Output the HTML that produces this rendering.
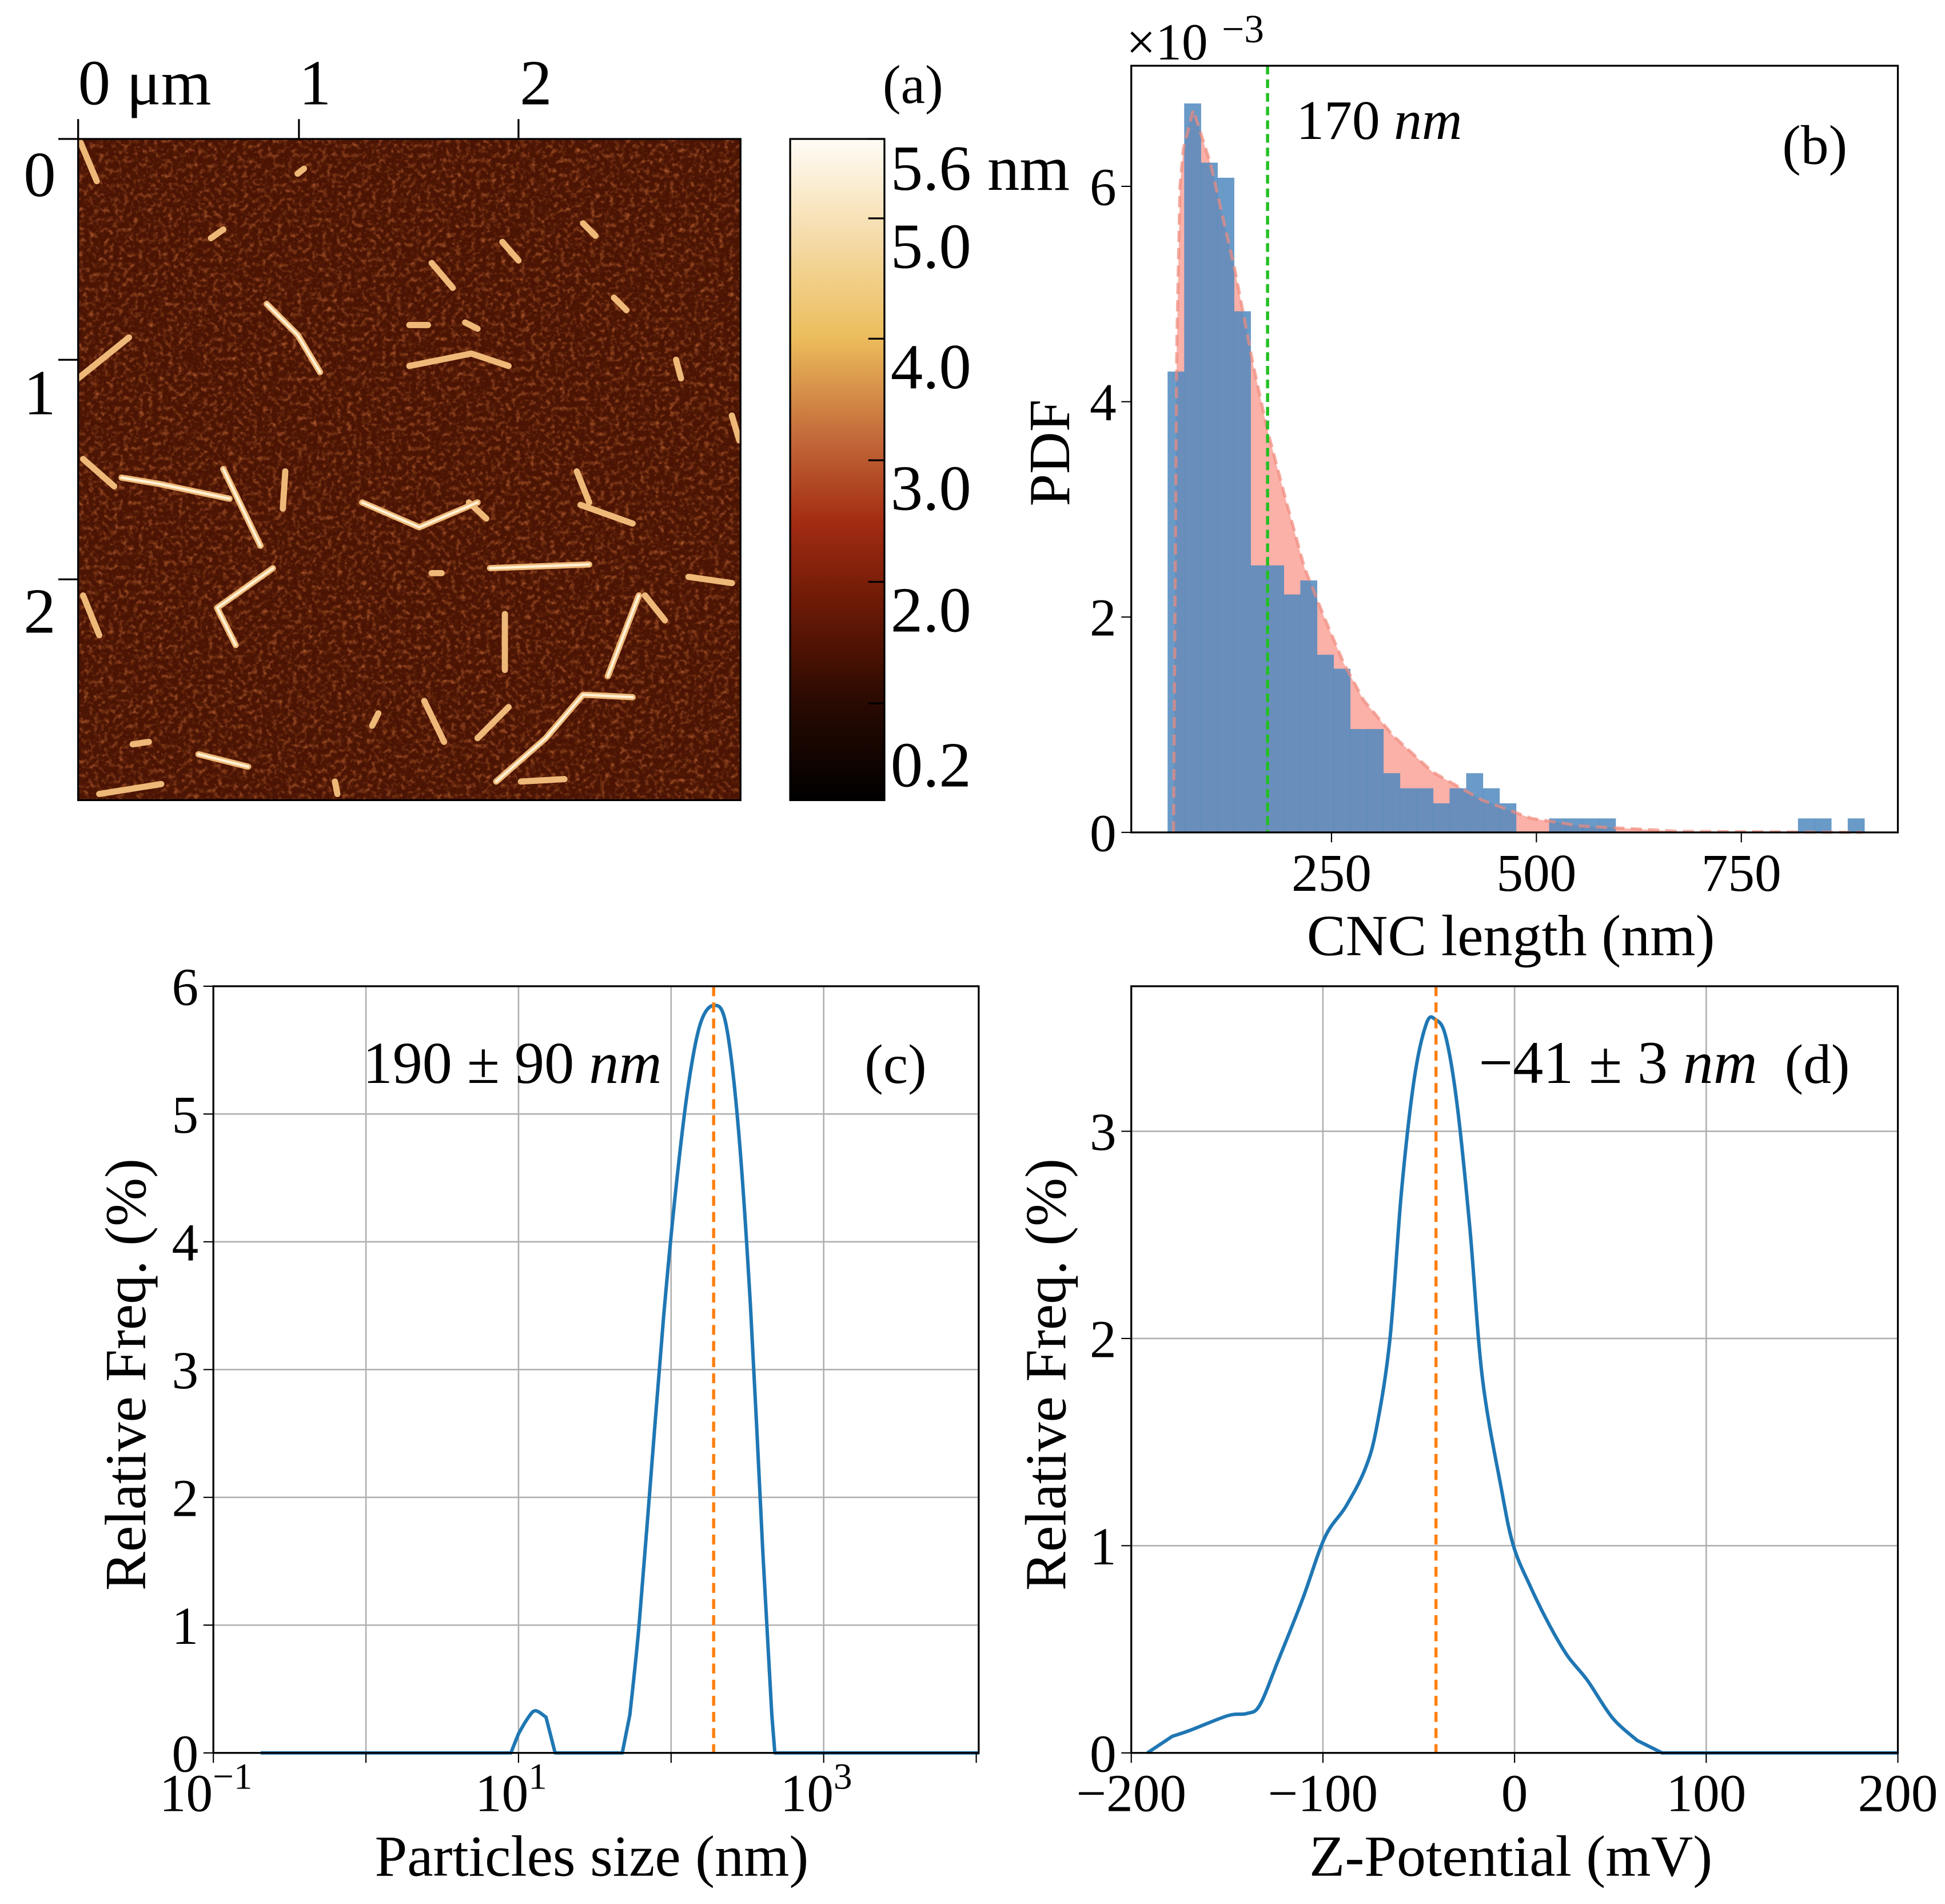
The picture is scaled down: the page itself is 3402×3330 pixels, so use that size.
<!DOCTYPE html>
<html><head><meta charset="utf-8"><style>
html,body{margin:0;padding:0;background:#fff}
svg{display:block;font-family:"Liberation Serif",serif}
</style></head><body>
<svg id="fig" width="3402" height="3330" viewBox="0 0 1568 1534.8" preserveAspectRatio="none">
<defs>
<linearGradient id="cbar" x1="0" y1="1" x2="0" y2="0">
<stop offset="0" stop-color="#000"/><stop offset="0.15" stop-color="#2a0a02"/><stop offset="0.3" stop-color="#6e1a06"/><stop offset="0.42" stop-color="#a22c12"/><stop offset="0.55" stop-color="#c46a3a"/><stop offset="0.7" stop-color="#ecbd5c"/><stop offset="0.85" stop-color="#f5dba8"/><stop offset="1" stop-color="#fffcf6"/>
</linearGradient>
<filter id="noise" x="0" y="0" width="100%" height="100%">
<feTurbulence type="fractalNoise" baseFrequency="0.25" numOctaves="2" seed="5"/>
<feColorMatrix type="matrix" values="0 0 0 0 0.62  0 0 0 0 0.16  0 0 0 0 0.04  1.8 0 0 0 -0.85"/>
</filter>
<filter id="noise2" x="0" y="0" width="100%" height="100%">
<feTurbulence type="fractalNoise" baseFrequency="0.3" numOctaves="1" seed="11"/>
<feColorMatrix type="matrix" values="0 0 0 0 0.08  0 0 0 0 0.01  0 0 0 0 0  2.0 0 0 0 -0.85"/>
</filter>
<clipPath id="afmclip"><rect x="63" y="112" width="534" height="533"/></clipPath>
</defs>

<!-- Panel a -->
<g>
<rect x="63" y="112" width="534" height="533" fill="#4a1304"/>
<rect x="63" y="112" width="534" height="533" filter="url(#noise)"/>
<rect x="63" y="112" width="534" height="533" filter="url(#noise2)"/>
<g clip-path="url(#afmclip)" fill="none" stroke-linecap="round" stroke-linejoin="round">
<g stroke="#eeb878" stroke-width="5">
<polyline points="65,115 78,146"/><polyline points="104,272 63,305"/><polyline points="215,245 240,270 258,300"/>
<polyline points="348,212 365,232"/><polyline points="405,195 418,210"/><polyline points="98,385 128,390 185,402"/>
<polyline points="180,378 210,440"/><polyline points="292,405 338,425 385,405"/><polyline points="378,405 392,418"/>
<polyline points="395,458 475,455"/><polyline points="468,407 510,422"/><polyline points="220,458 175,490 190,520"/>
<polyline points="555,465 590,470"/><polyline points="400,630 440,595 470,560 510,562"/><polyline points="420,630 455,628"/>
<polyline points="160,608 200,618"/><polyline points="515,480 490,545"/><polyline points="520,480 536,500"/>
<polyline points="407,495 407,540"/><polyline points="67,480 80,512"/><polyline points="330,295 380,285 410,295"/>
<polyline points="240,140 245,136"/><polyline points="385,595 410,570"/><polyline points="342,565 358,598"/>
<polyline points="545,290 549,305"/><polyline points="590,335 596,355"/><polyline points="67,370 92,392"/>
<polyline points="230,380 228,410"/><polyline points="465,380 475,405"/><polyline points="330,262 345,262"/>
<polyline points="495,240 505,250"/><polyline points="375,260 385,265"/><polyline points="107,600 120,598"/>
<polyline points="300,585 305,575"/><polyline points="270,630 272,640"/><polyline points="80,640 130,632"/>
<polyline points="348,462 356,462"/><polyline points="470,180 480,190"/><polyline points="180,185 170,192"/>
</g>
<g stroke="#fff2d6" stroke-width="2">
<polyline points="98,385 128,390 185,402"/><polyline points="180,378 210,440"/><polyline points="220,458 175,490 190,520"/>
<polyline points="400,630 440,595 470,560 510,562"/><polyline points="515,480 490,545"/><polyline points="292,405 338,425 385,405"/>
<polyline points="160,608 200,618"/><polyline points="215,245 240,270 258,300"/><polyline points="395,458 475,455"/>
</g>
</g>
<rect x="63" y="112" width="534" height="533" fill="none" stroke="#000" stroke-width="1.5"/>
<g stroke="#000" stroke-width="1.5">
<line x1="63" y1="96" x2="63" y2="112"/><line x1="241" y1="96" x2="241" y2="112"/><line x1="418" y1="96" x2="418" y2="112"/>
<line x1="47" y1="112" x2="63" y2="112"/><line x1="47" y1="290" x2="63" y2="290"/><line x1="47" y1="467" x2="63" y2="467"/>
</g>
<g font-size="52">
<text x="63" y="84">0 μm</text><text x="254" y="84" text-anchor="middle">1</text><text x="432" y="84" text-anchor="middle">2</text>
<text x="32" y="158" text-anchor="middle">0</text><text x="32" y="334" text-anchor="middle">1</text><text x="32" y="510" text-anchor="middle">2</text>
</g>
<text x="736" y="83" font-size="44" text-anchor="middle">(a)</text>
<rect x="637" y="112" width="76" height="533" fill="url(#cbar)" stroke="#000" stroke-width="1.5"/>
<g stroke="#000" stroke-width="1.5">
<line x1="713" y1="112" x2="700" y2="112"/><line x1="713" y1="176" x2="700" y2="176"/><line x1="713" y1="273" x2="700" y2="273"/><line x1="713" y1="371" x2="700" y2="371"/><line x1="713" y1="469" x2="700" y2="469"/><line x1="713" y1="567" x2="700" y2="567"/>
</g>
<g font-size="52">
<text x="718" y="153">5.6 nm</text><text x="718" y="216">5.0</text><text x="718" y="313">4.0</text><text x="718" y="411">3.0</text><text x="718" y="509">2.0</text><text x="718" y="634">0.2</text>
</g>
</g>

<g id="pb"></g>
<g id="pc"></g>
<g id="pd"></g>
</svg>
<script>
// Panel b data
const binStart = 50;
const binWidth = 20.24;
const binHeights = [4.28,6.77,6.22,6.08,4.84,2.48,2.48,2.21,2.34,1.65,1.52,0.96,0.96,0.55,0.41,0.41,0.27,0.41,0.55,0.41,0.27,0,0,0.13,0.13,0.13,0.13,0,0,0,0,0,0,0,0,0,0,0,0.13,0.13,0,0.13];
const fitX = [57.2,59.0,61.2,65.1,69.3,81.3,102.4,132.5,154.2,171.7,192.8,216.9,241,265,289,325,373.5,433.7,494,554,674.7,897.6];
const fitY = [0,2.0,4.5,6.0,6.35,6.71,6.21,5.21,4.35,3.74,3.13,2.46,2.0,1.57,1.23,0.90,0.56,0.30,0.13,0.06,0.01,0];
const medianB = 172;
const bXTicks = [250,500,750];
const bYTicks = [0,2,4,6];
// Panel c data (log10 of size)
const cLogX = [-0.69,0.95,1.0,1.06,1.11,1.18,1.24,1.68,1.73,1.79,1.87,1.95,2.03,2.11,2.19,2.28,2.36,2.44,2.52,2.6,2.66,2.68,4.02];
const cY = [0,0,0.15,0.27,0.33,0.28,0,0,0.3,1.0,2.2,3.4,4.4,5.2,5.7,5.85,5.7,4.9,3.5,1.6,0.3,0,0];
const cMean = 190;
const cYTicks = [0,1,2,3,4,5,6];
const cXTickExp = [-1,1,3];
// Panel d data
const dX = [-191.6,-178.6,-169,-149.5,-139.8,-133,-123.6,-110.7,-99,-88,-78,-72,-65,-59,-52.4,-46,-41.4,-36,-30,-23.3,-16.8,-7,-0.6,8.4,18,27.5,38,51,64,77,200];
const dY = [0,0.08,0.11,0.18,0.19,0.23,0.44,0.74,1.04,1.19,1.37,1.57,2.0,2.71,3.25,3.52,3.54,3.46,3.13,2.53,1.81,1.28,1.0,0.80,0.62,0.47,0.35,0.17,0.06,0,0];
const dMean = -41;
const dXTicks = [-200,-100,0,100,200];
const dYTicks = [0,1,2,3];

const NS='http://www.w3.org/2000/svg';
function mk(parent,tag,attrs,text){const e=document.createElementNS(NS,tag);for(const k in attrs)e.setAttribute(k,attrs[k]);if(text!==undefined)e.textContent=text;parent.appendChild(e);return e;}
function smooth(pts,base){ // Catmull-Rom; straight segments where touching baseline
 let d='M'+pts[0][0]+','+pts[0][1];
 for(let i=0;i<pts.length-1;i++){
  const p0=pts[Math.max(0,i-1)],p1=pts[i],p2=pts[i+1],p3=pts[Math.min(pts.length-1,i+2)];
  if(p1[1]>=base-0.01||p2[1]>=base-0.01){ d+=' L'+p2[0]+','+p2[1]; continue; }
  const q0=(p0[1]>=base-0.01)?p1:p0, q3=(p3[1]>=base-0.01)?p2:p3;
  d+=' C'+(p1[0]+(p2[0]-q0[0])/6)+','+(p1[1]+(p2[1]-q0[1])/6)+' '+(p2[0]-(q3[0]-p1[0])/6)+','+(p2[1]-(q3[1]-p1[1])/6)+' '+p2[0]+','+p2[1];
 }
 return d;
}

// ---- Panel b ----
(function(){
const g=document.getElementById('pb');
const L=912,R=1530,T=53,B=671, xmin=5.7, xmax=941, ymax=7.12;
const sx=v=>L+(v-xmin)/(xmax-xmin)*(R-L), sy=v=>B-v/ymax*(B-T);
let d='M'+sx(fitX[0])+','+B; fitX.forEach((x,i)=>{d+=' L'+sx(x)+','+sy(fitY[i]);}); d+=' L'+sx(fitX[fitX.length-1])+','+B+' Z';
const f=mk(g,'path',{d:d,fill:'#fbb0a8'});


binHeights.forEach((h,i)=>{ if(h<=0) return;
 const x0=sx(binStart+i*binWidth), x1=sx(binStart+(i+1)*binWidth);
 const r=mk(g,'rect',{x:x0,y:sy(h),width:x1-x0+0.3,height:B-sy(h),fill:'#4f88be',opacity:'0.85'});
 
 
});
let d2=''; fitX.forEach((x,i)=>{d2+=(i?' L':'M')+sx(x)+','+sy(fitY[i]);});
const fl=mk(g,'path',{d:d2,fill:'none',stroke:'#f08a7c',"stroke-width":2.5,"stroke-dasharray":'9,5',opacity:'0.7'});


const ml=mk(g,'line',{x1:sx(medianB),x2:sx(medianB),y1:T,y2:B,stroke:'#22c022',"stroke-width":2.5,"stroke-dasharray":'7,4'});


mk(g,'rect',{x:L,y:T,width:R-L,height:B-T,fill:'none',stroke:'#000',"stroke-width":1.5});
bXTicks.forEach(v=>{mk(g,'line',{x1:sx(v),x2:sx(v),y1:B,y2:B+8,stroke:'#000'});
 const t=mk(g,'text',{x:sx(v),y:B+47,"font-size":43,"text-anchor":'middle'},String(v));
 
 });
bYTicks.forEach(v=>{mk(g,'line',{x1:L-8,x2:L,y1:sy(v),y2:sy(v),stroke:'#000'});
 const t=mk(g,'text',{x:L-12,y:sy(v)+15,"font-size":43,"text-anchor":'end'},String(v));
 
 });
const xl=mk(g,'text',{x:1218,y:770,"font-size":47,"text-anchor":'middle'},'CNC length (nm)');


const yl=mk(g,'text',{x:0,y:0,"font-size":47,"text-anchor":'middle',transform:'translate(862,365) rotate(-90)'},'PDF');


const ex=mk(g,'text',{x:908,y:48,"font-size":42},'×10');


mk(g,'text',{x:985,y:34,"font-size":32},'−3');
const ann=mk(g,'text',{x:1045,y:112,"font-size":45},'170 ');
mk(ann,'tspan',{"font-style":'italic'},'nm');


const pl=mk(g,'text',{x:1463,y:132,"font-size":45,"text-anchor":'middle'},'(b)');


})();

// ---- Panel c ----
(function(){
const g=document.getElementById('pc');
const L=172,R=789,T=795,B=1413, xmin=-1, xmax=4.016, ymax=6;
const sx=v=>L+(v-xmin)/(xmax-xmin)*(R-L), sy=v=>B-v/ymax*(B-T);
for(let e=0;e<=3;e++){mk(g,'line',{x1:sx(e),x2:sx(e),y1:T,y2:B,stroke:'#b0b0b0',"stroke-width":1.2});}
cYTicks.forEach(v=>{ if(v>0&&v<6) mk(g,'line',{x1:L,x2:R,y1:sy(v),y2:sy(v),stroke:'#b0b0b0',"stroke-width":1.2});});
const pts=cLogX.map((x,i)=>[sx(x),sy(cY[i])]);
const c=mk(g,'path',{d:smooth(pts,B),fill:'none',stroke:'#1f77b4',"stroke-width":2.8,"stroke-linejoin":'round'});


const ml=mk(g,'line',{x1:sx(Math.log10(cMean)),x2:sx(Math.log10(cMean)),y1:T,y2:B,stroke:'#ff7f0e',"stroke-width":2.5,"stroke-dasharray":'8,5'});


mk(g,'rect',{x:L,y:T,width:R-L,height:B-T,fill:'none',stroke:'#000',"stroke-width":1.5});
for(let e=-1;e<=4;e++){ if(sx(e)<=R+1) mk(g,'line',{x1:sx(e),x2:sx(e),y1:B,y2:B+8,stroke:'#000'});}
cXTickExp.forEach(e=>{const t=mk(g,'text',{x:sx(e)-6,y:B+47,"font-size":43,"text-anchor":'middle'},'10');
 mk(t,'tspan',{"font-size":30,dy:-18},String(e).replace('-','−'));
 
 });
cYTicks.forEach(v=>{mk(g,'line',{x1:L-8,x2:L,y1:sy(v),y2:sy(v),stroke:'#000'});
 const t=mk(g,'text',{x:L-12,y:sy(v)+15,"font-size":43,"text-anchor":'end'},String(v));
 
 });
const xl=mk(g,'text',{x:477,y:1512,"font-size":47,"text-anchor":'middle'},'Particles size (nm)');


const yl=mk(g,'text',{x:0,y:0,"font-size":47,"text-anchor":'middle',transform:'translate(117,1108) rotate(-90)'},'Relative Freq.  (%)');


const ann=mk(g,'text',{x:413,y:873,"font-size":48,"text-anchor":'middle'},'190 ± 90 ');
mk(ann,'tspan',{"font-style":'italic'},'nm');


const pl=mk(g,'text',{x:722,y:873,"font-size":45,"text-anchor":'middle'},'(c)');


})();

// ---- Panel d ----
(function(){
const g=document.getElementById('pd');
const L=912,R=1530,T=795,B=1413, xmin=-200, xmax=200, ymax=3.7;
const sx=v=>L+(v-xmin)/(xmax-xmin)*(R-L), sy=v=>B-v/ymax*(B-T);
dXTicks.forEach(v=>{ if(v>-200&&v<200) mk(g,'line',{x1:sx(v),x2:sx(v),y1:T,y2:B,stroke:'#b0b0b0',"stroke-width":1.2});});
dYTicks.forEach(v=>{ if(v>0) mk(g,'line',{x1:L,x2:R,y1:sy(v),y2:sy(v),stroke:'#b0b0b0',"stroke-width":1.2});});
const pts=dX.map((x,i)=>[sx(x),sy(dY[i])]);
const c=mk(g,'path',{d:smooth(pts,B),fill:'none',stroke:'#1f77b4',"stroke-width":2.8,"stroke-linejoin":'round'});


const ml=mk(g,'line',{x1:sx(dMean),x2:sx(dMean),y1:T,y2:B,stroke:'#ff7f0e',"stroke-width":2.5,"stroke-dasharray":'8,5'});


mk(g,'rect',{x:L,y:T,width:R-L,height:B-T,fill:'none',stroke:'#000',"stroke-width":1.5});
dXTicks.forEach(v=>{mk(g,'line',{x1:sx(v),x2:sx(v),y1:B,y2:B+8,stroke:'#000'});
 const t=mk(g,'text',{x:sx(v),y:B+47,"font-size":43,"text-anchor":'middle'},String(v).replace('-','−'));
 
 });
dYTicks.forEach(v=>{mk(g,'line',{x1:L-8,x2:L,y1:sy(v),y2:sy(v),stroke:'#000'});
 const t=mk(g,'text',{x:L-12,y:sy(v)+15,"font-size":43,"text-anchor":'end'},String(v));
 
 });
const xl=mk(g,'text',{x:1218,y:1512,"font-size":47,"text-anchor":'middle'},'Z-Potential (mV)');


const yl=mk(g,'text',{x:0,y:0,"font-size":47,"text-anchor":'middle',transform:'translate(859,1108) rotate(-90)'},'Relative Freq.  (%)');


const ann=mk(g,'text',{x:1192,y:873,"font-size":49},'−41 ± 3 ');
mk(ann,'tspan',{"font-style":'italic'},'nm');


const pl=mk(g,'text',{x:1465,y:873,"font-size":45,"text-anchor":'middle'},'(d)');


})();
</script>
</body></html>
